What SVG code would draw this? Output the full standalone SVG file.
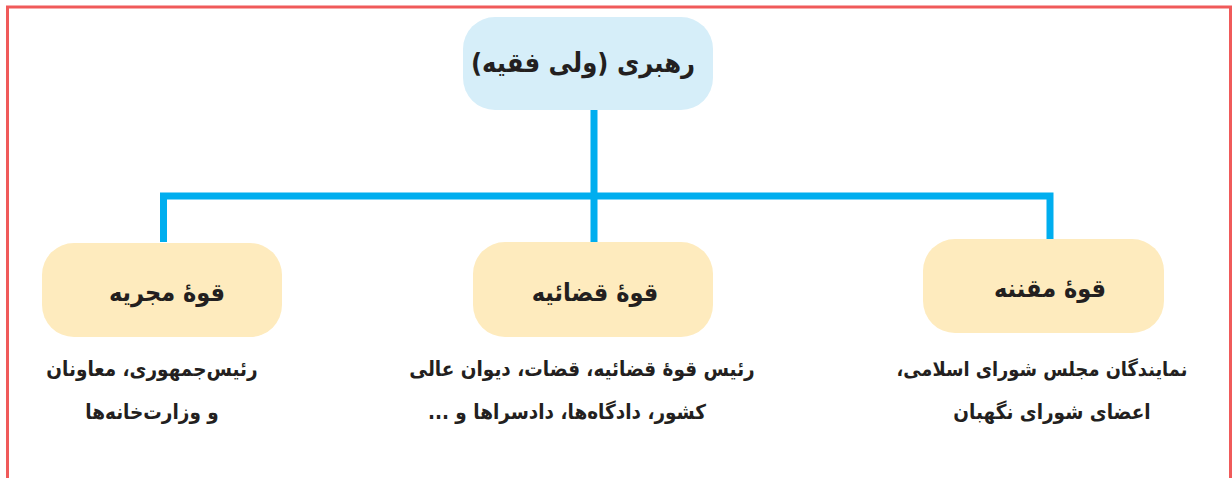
<svg xmlns="http://www.w3.org/2000/svg" width="1232" height="478" viewBox="0 0 1232 478">
<style>
.frame{fill:none;stroke:#F05A5A;stroke-width:3}
.conn{fill:none;stroke:#00AEEF;stroke-width:7}
.root{fill:#D6EEF9}
.branch{fill:#FEEBBE}
text{font-family:"DejaVu Sans Condensed","DejaVu Sans",sans-serif;font-stretch:condensed;font-weight:bold;fill:#231F20;text-anchor:middle;direction:rtl}
.title{font-size:27px}
.head{font-size:25px}
.sub{font-size:20.5px}
.subs{font-size:19.8px}
</style>
<rect width="1232" height="478" fill="#ffffff"/>
<path class="frame" d="M7.5,478 V7 H1230.5 V478"/>
<g id="connectors">
<path class="conn" d="M594,110 V242"/>
<path class="conn" d="M163.5,242 V196 H1050 V239"/>
</g>
<g id="node-root">
<rect class="root" x="463" y="17" width="250" height="93" rx="32"/>
<text class="title" x="583" y="72">رهبری (ولی فقیه)</text>
</g>
<g id="node-executive">
<rect class="branch" x="42" y="243" width="240" height="94" rx="32"/>
<text class="head" x="167" y="301">قوهٔ مجریه</text>
<text class="sub" x="152" y="376">رئیس‌جمهوری، معاونان</text>
<text class="sub" x="152" y="419">و وزارت‌خانه‌ها</text>
</g>
<g id="node-judiciary">
<rect class="branch" x="473" y="242" width="240" height="95" rx="32"/>
<text class="head" x="595" y="301">قوهٔ قضائیه</text>
<text class="sub" x="582" y="376">رئیس قوهٔ قضائیه، قضات، دیوان عالی</text>
<text class="sub" x="567" y="419">کشور، دادگاه‌ها، دادسراها و ...</text>
</g>
<g id="node-legislative">
<rect class="branch" x="923" y="239" width="241" height="94" rx="32"/>
<text class="head" x="1050" y="297">قوهٔ مقننه</text>
<text class="subs" x="1042" y="376">نمایندگان مجلس شورای اسلامی،</text>
<text class="sub" x="1052" y="419">اعضای شورای نگهبان</text>
</g>
</svg>
